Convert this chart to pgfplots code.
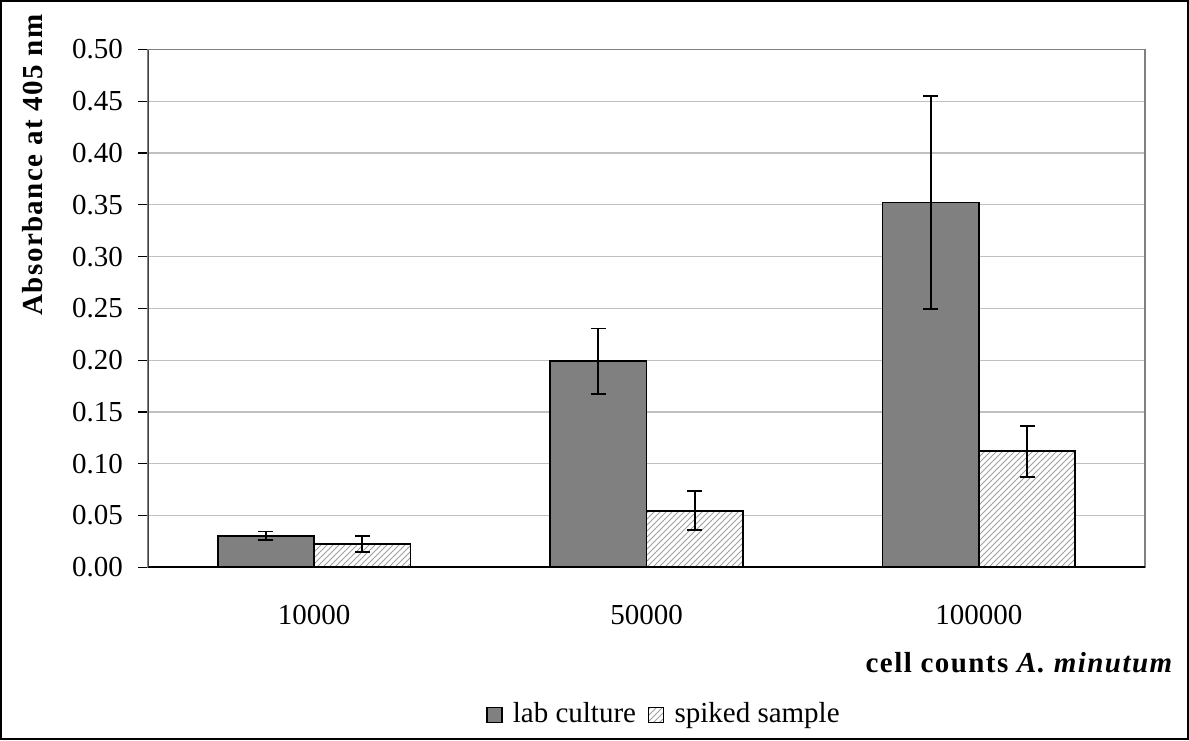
\documentclass[border=0pt]{standalone}
\usepackage{pgfplots}
\pgfplotsset{compat=1.18}
\usepackage{fontspec}
\setmainfont{Liberation Serif}
\usetikzlibrary{patterns}
\definecolor{labgray}{HTML}{808080}
\definecolor{gridgray}{HTML}{C0C0C0}
\definecolor{hatchgray}{HTML}{A0A0A0}
\begin{document}
\fontsize{14.5}{17}\selectfont
\begin{tikzpicture}
\draw[line width=1pt] (0.5pt,0.5pt) rectangle (594pt,369.5pt);
\begin{axis}[
  at={(74pt,86.35pt)}, anchor=south west,
  scale only axis, width=498.5pt, height=258.9pt,
  ybar, bar width=0.29,
  xmin=-0.5, xmax=2.5, ymin=0, ymax=0.5,
  axis line style={draw=labgray, line width=0.8pt},
  tick pos=left,
  xtick={0,1,2}, xticklabels={10000,50000,100000},
  x tick style={draw=none},
  extra x ticks={-0.5,0.5,1.5,2.5}, extra x tick labels={},
  extra x tick style={major tick length=5pt, tick align=outside, draw=labgray, line width=0.8pt, grid=none},
  xticklabel style={yshift=-9pt},
  ytick={0,0.05,...,0.51},
  y tick style={draw=black, line width=0.6pt},
  tick align=outside, major tick length=5pt,
  yticklabel style={xshift=-2.5pt, /pgf/number format/.cd, fixed, fixed zerofill, precision=2},
  /pgf/number format/assume math mode=true,
  ymajorgrids, grid style={draw=gridgray, line width=0.6pt},
  legend style={at={(axis description cs:0.5186,-0.2852)}, anchor=center, draw=none, fill=none, legend columns=2, /tikz/every even column/.append style={column sep=4pt}},
  legend image code/.code={\draw[#1, line width=0.6pt] (0pt,-3.75pt) rectangle (7.5pt,3.75pt); \path (10.5pt,0pt);},
  error bars/error bar style={black, line width=0.9pt},
  error bars/error mark options={black, rotate=90, mark size=3.75pt, line width=0.9pt},
]
\addplot[bar shift=0pt, fill=labgray, draw=black, line width=0.9pt,
  error bars/.cd, y dir=both, y explicit]
  coordinates {(-0.145,0.0305) +- (0,0.004) (0.855,0.199) +- (0,0.0315) (1.855,0.3523) +- (0,0.103)};
\addlegendentry{lab culture}
\addplot[bar shift=0pt, fill=white, postaction={pattern=north east lines, pattern color=hatchgray}, draw=black, line width=0.9pt,
  error bars/.cd, y dir=both, y explicit]
  coordinates {(0.145,0.0228) +- (0,0.0077) (1.145,0.0547) +- (0,0.019) (2.145,0.112) +- (0,0.0248)};
\addlegendentry{spiked sample}
\draw[black, line width=0.9pt] (rel axis cs:0,0) -- (rel axis cs:1,0);
\draw[black!75, line width=0.8pt] (rel axis cs:0,0) -- (rel axis cs:0,1);
\end{axis}
\node[rotate=90, font=\bfseries\addfontfeature{LetterSpace=5}] at (16.5pt,287.5pt) {Absorbance at 405 nm};
\node[anchor=east, inner sep=0pt, font=\bfseries\addfontfeature{LetterSpace=5}] at (587pt,38.5pt) {cell counts \textit{A. minutum}};
\end{tikzpicture}
\end{document}
